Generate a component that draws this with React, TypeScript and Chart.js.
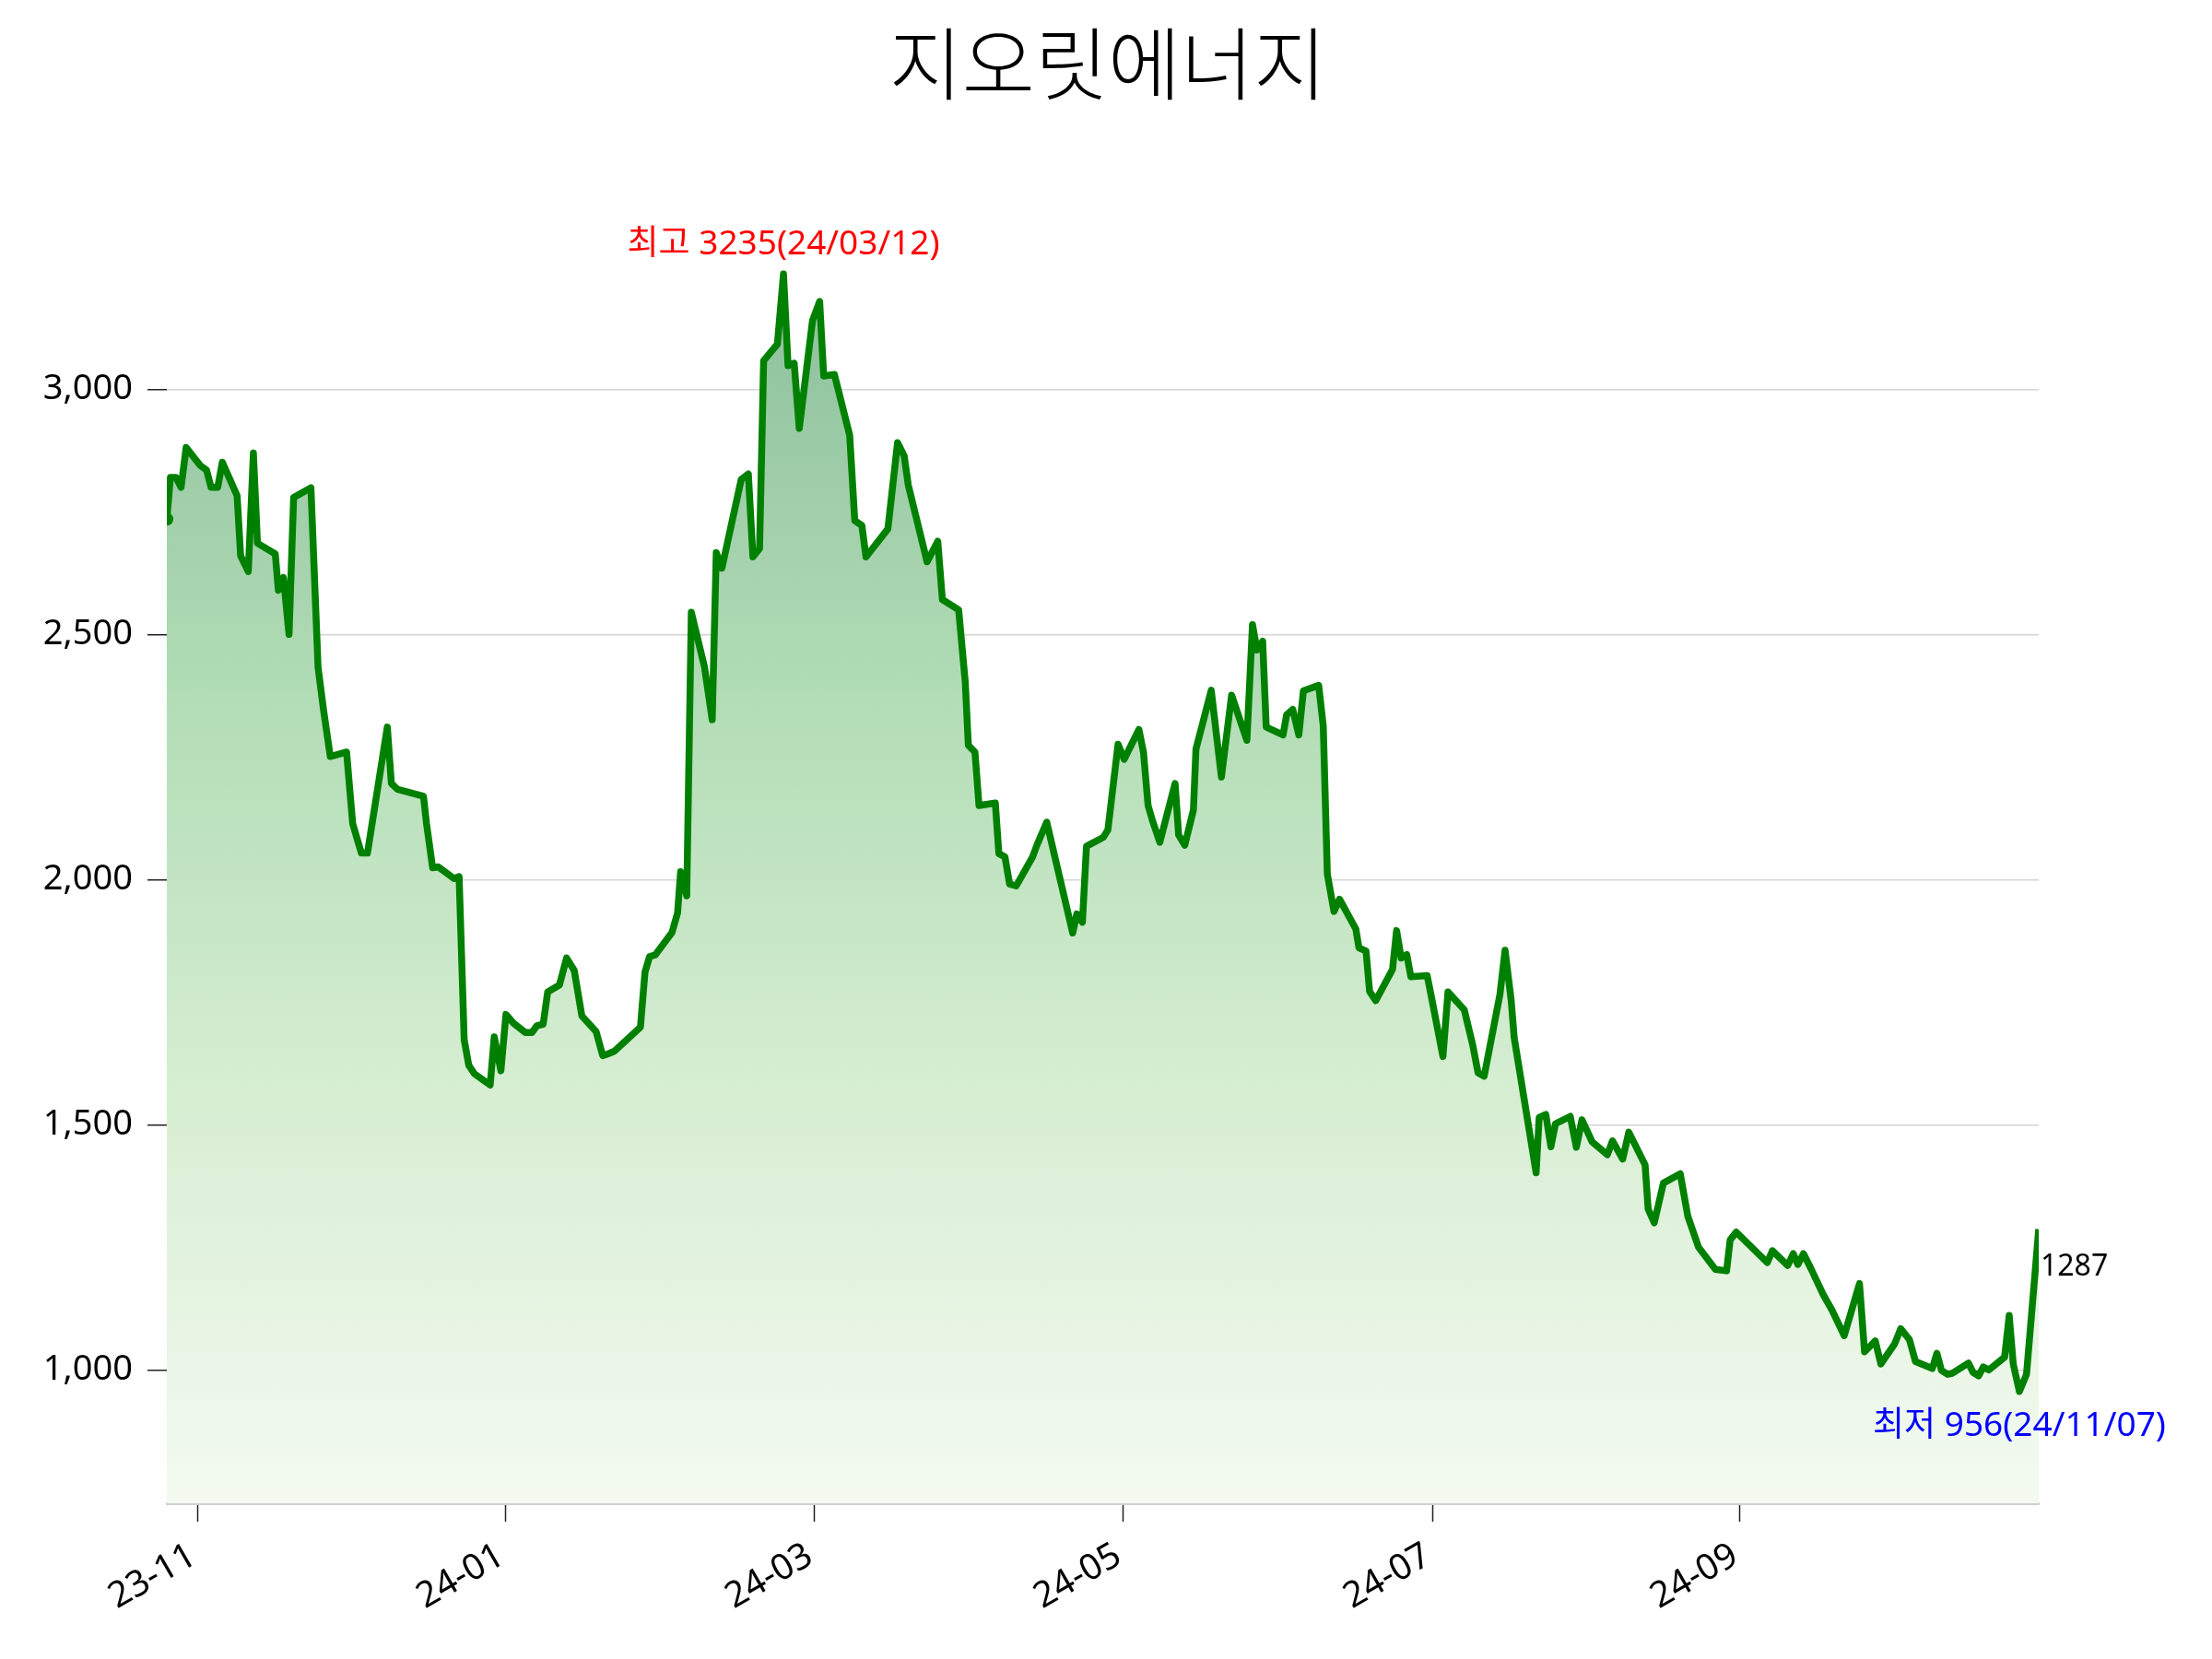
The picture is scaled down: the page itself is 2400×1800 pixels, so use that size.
import { useEffect, useRef } from "react";
import { Chart, registerables } from "chart.js";

Chart.register(...registerables);

const FONT = '"Noto Sans", "Noto Sans CJK KR", sans-serif';
const TITLE_FONT = '"Noto Sans CJK KR", sans-serif';

const TITLE = "지오릿에너지";
const HIGH_LABEL = "최고 3235(24/03/12)";
const LOW_LABEL = "최저 956(24/11/07)";
const LAST_LABEL = "1287";

// days counted from 2023-11-01
const dayOffsets = [
  -6.1, -5.4, -4.3, -3.3, -2.3, 0.5, 1.7, 2.6, 3.9, 4.8, 7.7, 8.4, 9.9, 10.9, 11.7,
  15.2, 15.8, 16.8, 17.9, 18.8, 22.2, 23.6, 24.7, 26.0, 29.2, 30.4, 32.1, 33.3, 37.2,
  38.0, 39.2, 44.3, 44.9, 46.1, 47.2, 50.3, 51.3, 52.3, 53.2, 54.3, 57.4, 58.2, 59.5,
  60.5, 62.0, 64.3, 65.6, 66.6, 67.8, 68.7, 71.0, 72.4, 73.9, 75.4, 78.2, 79.5, 80.4,
  81.8, 86.9, 87.8, 88.7, 89.8, 93.1, 94.2, 94.8, 96.0, 96.9, 99.5, 101.0, 101.8, 102.9,
  106.7, 108.1, 109.0, 110.3, 111.1, 113.8, 115.0, 115.9, 117.1, 118.1, 120.7, 122.1,
  122.9, 125.0, 128.0, 129.0, 130.4, 131.2, 135.5, 137.4, 138.7, 139.5, 143.2, 145.3,
  146.2, 149.4, 150.7, 151.3, 152.6, 153.4, 156.6, 157.3, 158.5, 159.4, 160.7, 163.9,
  164.8, 166.7, 171.8, 172.6, 173.7, 174.5, 177.8, 178.7, 180.7, 181.9, 184.8, 185.7,
  186.6, 187.5, 188.9, 191.9, 192.6, 193.8, 195.5, 196.0, 199.0, 201.0, 203.0, 206.0,
  207.1, 208.0, 209.1, 209.8, 213.1, 213.8, 215.0, 216.2, 217.1, 220.1, 221.0, 221.8,
  223.1, 224.2, 227.4, 228.0, 229.4, 230.1, 231.3, 234.6, 235.4, 236.3, 237.4, 238.2,
  241.4, 242.2, 244.5, 245.5, 248.7, 250.3, 251.4, 252.6, 255.7, 256.7, 257.9, 258.5,
  262.8, 263.4, 264.7, 265.7, 266.6, 269.5, 270.7, 271.8, 273.8, 276.8, 277.8, 279.8,
  281.0, 284.2, 284.8, 286.0, 287.8, 291.1, 292.6, 294.7, 298.0, 300.2, 300.9, 302.1,
  308.2, 309.2, 312.2, 313.3, 314.2, 315.3, 316.8, 319.2, 320.9, 323.3, 326.3, 327.3,
  329.4, 330.5, 333.2, 334.4, 336.1, 337.3, 340.6, 341.5, 342.4, 343.6, 344.5, 347.7,
  348.6, 349.7, 350.6, 351.7, 354.8, 355.7, 356.5, 357.7, 359.1, 361.5,
];

const closePrices = [
  2735, 2820, 2820, 2800, 2881, 2844, 2835, 2800, 2800, 2851, 2783, 2660, 2628, 2870, 2686,
  2664, 2590, 2616, 2500, 2779, 2799, 2433, 2344, 2251, 2260, 2114, 2054, 2054, 2311,
  2196, 2184, 2170, 2114, 2024, 2026, 2002, 2006, 1673, 1621, 1604, 1581, 1679, 1610,
  1725, 1707, 1688, 1688, 1702, 1705, 1771, 1785, 1840, 1815, 1722, 1690, 1641, 1644,
  1650, 1699, 1811, 1843, 1846, 1892, 1932, 2016, 1967, 2545, 2433, 2326, 2667, 2635,
  2816, 2827, 2658, 2675, 3058, 3092, 3235, 3048, 3053, 2920, 3140, 3179,
  3027, 3030, 2906, 2732, 2722, 2658, 2715, 2891, 2864, 2805, 2648, 2690,
  2571, 2550, 2402, 2274, 2260, 2151, 2156, 2053, 2046, 1991, 1987, 2046,
  2071, 2117, 1891, 1930, 1913, 2068, 2086, 2101, 2276, 2245, 2306, 2259,
  2151, 2119, 2076, 2196, 2091, 2070, 2142, 2266, 2386, 2209, 2376, 2284,
  2520, 2468, 2486, 2311, 2295, 2336, 2347, 2295, 2385, 2396, 2313, 2011,
  1935, 1960, 1899, 1861, 1854, 1772, 1753, 1817, 1896, 1840, 1847, 1802,
  1804, 1763, 1639, 1771, 1734, 1665, 1606, 1599, 1766, 1856, 1754, 1677,
  1402, 1515, 1521, 1455, 1502, 1517, 1454, 1510, 1465, 1439, 1467, 1430,
  1485, 1418, 1328, 1300, 1381, 1400, 1313, 1250, 1205, 1202, 1265, 1281,
  1219, 1243, 1213, 1237, 1215, 1237, 1206, 1153, 1122, 1070, 1176, 1037,
  1059, 1012, 1053, 1084, 1062, 1017, 1003, 1034, 999, 991, 993, 1014,
  995, 988, 1006, 1000, 1026, 1111, 1012, 956, 991, 1287,
];

const xTickDays = [0, 60.5, 121.1, 181.7, 242.5, 302.8];
const xTickLabels = ["23-11", "24-01", "24-03", "24-05", "24-07", "24-09"];
const yTickValues = [1000, 1500, 2000, 2500, 3000];

export default function App() {
  const canvasRef = useRef<HTMLCanvasElement>(null);
  const chartRef = useRef<Chart | null>(null);

  useEffect(() => {
    document.body.style.margin = "0";
    const ctx = canvasRef.current?.getContext("2d");
    if (!ctx) return;

    const hi = Math.max(...closePrices);
    const lo = Math.min(...closePrices);
    const pad = (hi - lo) * 0.1;
    const hiIdx = closePrices.indexOf(hi);
    const loIdx = closePrices.indexOf(lo);
    const lastIdx = closePrices.length - 1;

    const annotate = {
      id: "annotate",
      afterDatasetsDraw(chart: Chart) {
        const c = chart.ctx;
        const x = chart.scales.x;
        const y = chart.scales.y;
        c.save();
        c.fillStyle = "#000";
        c.textAlign = "center";
        c.textBaseline = "middle";
        c.font = `300 86px ${TITLE_FONT}`;
        c.fillText(TITLE, 1202, 69);

        c.font = `37px ${FONT}`;
        c.fillStyle = "#ff0000";
        c.fillText(
          HIGH_LABEL,
          x.getPixelForValue(dayOffsets[hiIdx]),
          y.getPixelForValue(hi) - 32,
        );
        c.fillStyle = "#0000ff";
        c.fillText(
          LOW_LABEL,
          x.getPixelForValue(dayOffsets[loIdx]),
          y.getPixelForValue(lo) + 38,
        );
        c.font = `32px ${FONT}`;
        c.fillStyle = "#000";
        c.textAlign = "left";
        c.fillText(
          LAST_LABEL,
          x.getPixelForValue(dayOffsets[lastIdx]) + 2,
          y.getPixelForValue(closePrices[lastIdx]) + 41,
        );
        c.restore();
      },
    };

    chartRef.current?.destroy();
    chartRef.current = new Chart(ctx, {
      type: "line",
      data: {
        datasets: [
          {
            data: dayOffsets.map((d, i) => ({ x: d, y: closePrices[i] })),
            borderColor: "#008000",
            borderWidth: 7.5,
            borderJoinStyle: "round",
            borderCapStyle: "butt",
            tension: 0,
            fill: "start",
            backgroundColor: (context: any) => {
              const { chart } = context;
              if (!chart.chartArea) return "rgba(0,128,0,0.2)";
              const ys = chart.scales.y;
              const g = chart.ctx.createLinearGradient(
                0,
                ys.getPixelForValue(hi),
                0,
                ys.getPixelForValue(lo - pad),
              );
              g.addColorStop(0, "rgb(140,191,156)");
              g.addColorStop(0.35, "rgb(178,221,182)");
              g.addColorStop(0.65, "rgb(213,237,209)");
              g.addColorStop(1, "rgb(244,250,241)");
              return g;
            },
            pointRadius: (c: any) => (c.dataIndex === 0 ? 7 : 0),
            pointBackgroundColor: "#008000",
            pointBorderWidth: 0,
          },
        ],
      },
      options: {
        animation: false,
        responsive: true,
        maintainAspectRatio: false,
        devicePixelRatio: 1,
        layout: { padding: { left: 0, right: 188, top: 176, bottom: 0 } },
        plugins: {
          legend: { display: false },
          tooltip: { enabled: false },
          title: { display: false },
        },
        scales: {
          x: {
            type: "linear",
            min: dayOffsets[0],
            max: dayOffsets[lastIdx],
            afterBuildTicks: (scale: any) => {
              scale.ticks = xTickDays.map((v) => ({ value: v }));
            },
            afterFit: (scale: any) => {
              scale.height = 169;
            },
            ticks: {
              autoSkip: false,
              minRotation: 30,
              maxRotation: 30,
              padding: 14,
              labelOffset: -5,
              color: "#000",
              font: { family: FONT, size: 39 },
              callback: (_v: any, i: number) => xTickLabels[i],
            },
            grid: {
              drawOnChartArea: false,
              drawTicks: true,
              tickLength: 20,
              tickColor: "#222",
              tickWidth: 1.5,
            },
            border: { display: true, color: "#d0d0d0", width: 3 },
          },
          y: {
            type: "linear",
            min: lo - pad,
            max: hi + pad,
            afterBuildTicks: (scale: any) => {
              scale.ticks = yTickValues.map((v) => ({ value: v }));
            },
            afterFit: (scale: any) => {
              scale.width = 181;
            },
            ticks: {
              padding: 16,
              color: "#000",
              font: { family: FONT, size: 38 },
              callback: (v: any) => Number(v).toLocaleString("en-US"),
            },
            grid: {
              color: "#d4d4d4",
              lineWidth: 1.5,
              drawTicks: true,
              tickLength: 21,
              tickColor: "#222",
              tickWidth: 1.5,
            },
            border: { display: false },
          },
        },
      },
      plugins: [annotate],
    });

    return () => {
      chartRef.current?.destroy();
      chartRef.current = null;
    };
  }, []);

  return (
    <div style={{ position: "relative", width: 2400, height: 1800, background: "#fff" }}>
      <canvas ref={canvasRef} />
    </div>
  );
}
